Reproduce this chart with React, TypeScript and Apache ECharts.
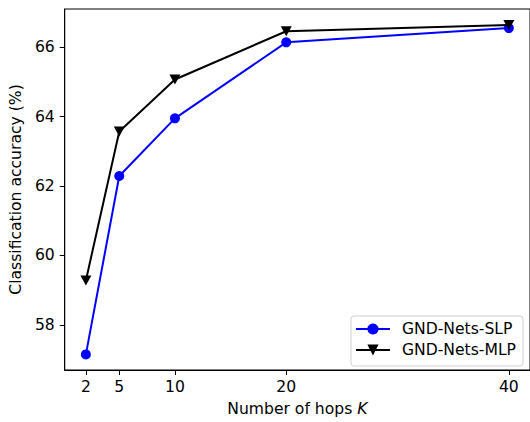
import React, { useEffect, useRef } from "react";
import * as echarts from "echarts";

const hops = [2, 5, 10, 20, 40];
const slpAcc = [57.15, 62.29, 63.95, 66.14, 66.55];
const mlpAcc = [59.28, 63.57, 65.07, 66.46, 66.64];
const yTicks = [58, 60, 62, 64, 66];
const seriesNames = ["GND-Nets-SLP", "GND-Nets-MLP"];
const FONT = "DejaVu Sans";
const FS = 15.6;

export default function App() {
  const ref = useRef<HTMLDivElement>(null);
  useEffect(() => {
    if (!ref.current) return;
    const chart = echarts.init(ref.current, null, { renderer: "svg" });
    chart.setOption({
      animation: false,
      backgroundColor: "#ffffff",
      textStyle: { fontFamily: FONT },
      grid: {
        left: 64,
        right: 0,
        top: 9,
        bottom: 49,
        show: true,
        borderColor: "#000",
        borderWidth: 1,
        containLabel: false,
      },
      legend: {
        right: 7,
        bottom: 56,
        orient: "vertical",
        itemWidth: 34,
        itemHeight: 14,
        itemGap: 5,
        padding: [5, 7, 8, 4],
        backgroundColor: "#fff",
        borderColor: "#d0d0d0",
        borderWidth: 1,
        borderRadius: 3,
        textStyle: { fontFamily: FONT, fontSize: FS, color: "#000", padding: [0, 0, 0, 7] },
        data: seriesNames,
      },
      xAxis: {
        type: "value",
        min: 0.1,
        max: 41.9,
        name: "{a|Number of hops }{i|K}",
        nameLocation: "middle",
        nameGap: 31,
        nameTextStyle: {
          rich: {
            a: { fontFamily: FONT, fontSize: FS, color: "#000" },
            i: { fontFamily: FONT, fontSize: FS, color: "#000", fontStyle: "italic" },
          },
        },
        splitLine: { show: false },
        axisLine: { show: true, lineStyle: { color: "#000", width: 1 } },
        axisTick: { show: true, length: 5, lineStyle: { color: "#000" }, customValues: hops },
        axisLabel: {
          color: "#000",
          fontSize: FS,
          fontFamily: FONT,
          margin: 9,
          customValues: hops,
        },
      },
      yAxis: {
        type: "value",
        min: 56.7,
        max: 67.1,
        name: "Classification accuracy (%)",
        nameLocation: "middle",
        nameGap: 33,
        nameTextStyle: { fontFamily: FONT, fontSize: FS, color: "#000" },
        splitLine: { show: false },
        axisLine: { show: true, lineStyle: { color: "#000", width: 1 } },
        axisTick: { show: true, length: 5, lineStyle: { color: "#000" }, customValues: yTicks },
        axisLabel: {
          color: "#000",
          fontSize: FS,
          fontFamily: FONT,
          margin: 10,
          customValues: yTicks,
        },
      },
      series: [
        {
          name: seriesNames[0],
          type: "line",
          data: hops.map((h, i) => [h, slpAcc[i]]),
          symbol: "circle",
          symbolSize: 10,
          lineStyle: { color: "#0000ff", width: 2 },
          itemStyle: { color: "#0000ff" },
          z: 2,
        },
        {
          name: seriesNames[1],
          type: "line",
          data: hops.map((h, i) => [h, mlpAcc[i]]),
          symbol: "triangle",
          symbolRotate: 180,
          symbolSize: [11, 10],
          lineStyle: { color: "#000", width: 2 },
          itemStyle: { color: "#000" },
          z: 3,
        },
      ],
    });
    return () => chart.dispose();
  }, []);
  return (
    <div
      ref={ref}
      style={{ position: "absolute", left: 0, top: 0, width: 530, height: 422 }}
    />
  );
}
